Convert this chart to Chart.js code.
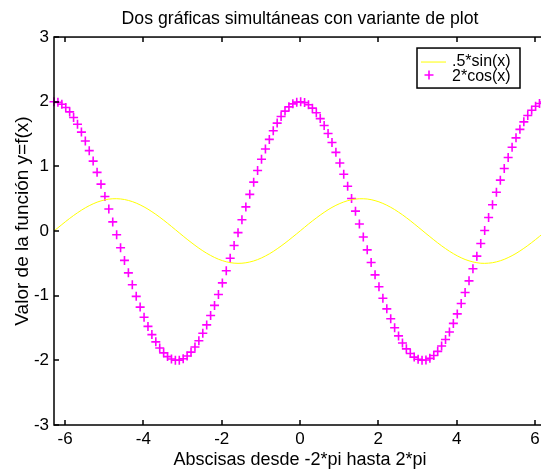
<!DOCTYPE html>
<html>
<head>
<meta charset="utf-8">
<script src="https://cdn.jsdelivr.net/npm/chart.js@4.4.1/dist/chart.umd.min.js"></script>
<style>
  html, body { margin: 0; padding: 0; background: #fff; overflow: hidden; }
  #wrap { width: 560px; height: 469px; }
</style>
</head>
<body>
<div id="wrap"><canvas id="myChart" width="560" height="469"></canvas></div>
<script>
// x = -2*pi:0.1:2*pi
const xValues = [
  -6.283, -6.183, -6.083, -5.983, -5.883, -5.783, -5.683, -5.583, -5.483, -5.383,
  -5.283, -5.183, -5.083, -4.983, -4.883, -4.783, -4.683, -4.583, -4.483, -4.383,
  -4.283, -4.183, -4.083, -3.983, -3.883, -3.783, -3.683, -3.583, -3.483, -3.383,
  -3.283, -3.183, -3.083, -2.983, -2.883, -2.783, -2.683, -2.583, -2.483, -2.383,
  -2.283, -2.183, -2.083, -1.983, -1.883, -1.783, -1.683, -1.583, -1.483, -1.383,
  -1.283, -1.183, -1.083, -0.983, -0.883, -0.783, -0.683, -0.583, -0.483, -0.383,
  -0.283, -0.183, -0.083, 0.017, 0.117, 0.217, 0.317, 0.417, 0.517, 0.617,
  0.717, 0.817, 0.917, 1.017, 1.117, 1.217, 1.317, 1.417, 1.517, 1.617,
  1.717, 1.817, 1.917, 2.017, 2.117, 2.217, 2.317, 2.417, 2.517, 2.617,
  2.717, 2.817, 2.917, 3.017, 3.117, 3.217, 3.317, 3.417, 3.517, 3.617,
  3.717, 3.817, 3.917, 4.017, 4.117, 4.217, 4.317, 4.417, 4.517, 4.617,
  4.717, 4.817, 4.917, 5.017, 5.117, 5.217, 5.317, 5.417, 5.517, 5.617,
  5.717, 5.817, 5.917, 6.017, 6.117, 6.217
];

// .5*sin(x)
const sinValues = [
  0.000, 0.050, 0.099, 0.148, 0.195, 0.240, 0.282, 0.322, 0.359, 0.392,
  0.421, 0.446, 0.466, 0.482, 0.493, 0.499, 0.500, 0.496, 0.487, 0.473,
  0.455, 0.432, 0.404, 0.373, 0.338, 0.299, 0.258, 0.214, 0.168, 0.120,
  0.071, 0.021, -0.029, -0.079, -0.128, -0.175, -0.221, -0.265, -0.306, -0.344,
  -0.378, -0.409, -0.436, -0.458, -0.476, -0.489, -0.497, -0.500, -0.498, -0.491,
  -0.479, -0.463, -0.442, -0.416, -0.386, -0.353, -0.316, -0.275, -0.232, -0.187,
  -0.140, -0.091, -0.042, 0.008, 0.058, 0.108, 0.156, 0.202, 0.247, 0.289,
  0.329, 0.365, 0.397, 0.425, 0.449, 0.469, 0.484, 0.494, 0.499, 0.499,
  0.495, 0.485, 0.470, 0.451, 0.427, 0.399, 0.367, 0.332, 0.292, 0.251,
  0.206, 0.160, 0.111, 0.062, 0.012, -0.038, -0.087, -0.136, -0.183, -0.229,
  -0.272, -0.313, -0.350, -0.384, -0.414, -0.440, -0.461, -0.478, -0.490, -0.498,
  -0.500, -0.497, -0.490, -0.477, -0.460, -0.438, -0.411, -0.381, -0.347, -0.309,
  -0.268, -0.225, -0.179, -0.132, -0.083, -0.033
];

// 2*cos(x)
const cosValues = [
  2.000, 1.990, 1.960, 1.911, 1.842, 1.755, 1.651, 1.530, 1.393, 1.243,
  1.081, 0.907, 0.725, 0.535, 0.340, 0.141, -0.058, -0.258, -0.454, -0.647,
  -0.832, -1.010, -1.177, -1.333, -1.475, -1.602, -1.714, -1.808, -1.884, -1.942,
  -1.980, -1.998, -1.997, -1.975, -1.934, -1.873, -1.794, -1.696, -1.582, -1.452,
  -1.307, -1.150, -0.981, -0.802, -0.615, -0.422, -0.224, -0.025, 0.175, 0.373,
  0.567, 0.756, 0.937, 1.109, 1.269, 1.417, 1.551, 1.669, 1.771, 1.855,
  1.920, 1.967, 1.993, 2.000, 1.986, 1.953, 1.900, 1.829, 1.739, 1.631,
  1.508, 1.369, 1.217, 1.052, 0.877, 0.693, 0.503, 0.307, 0.108, -0.092,
  -0.291, -0.487, -0.678, -0.863, -1.039, -1.204, -1.357, -1.497, -1.622, -1.731,
  -1.822, -1.895, -1.950, -1.984, -1.999, -1.994, -1.969, -1.925, -1.861, -1.778,
  -1.678, -1.561, -1.429, -1.282, -1.122, -0.951, -0.771, -0.583, -0.389, -0.192,
  0.009, 0.209, 0.406, 0.599, 0.787, 0.967, 1.137, 1.295, 1.441, 1.572,
  1.688, 1.786, 1.867, 1.929, 1.972, 1.996
];

const xTicks = [-6, -4, -2, 0, 2, 4, 6];
const yTicks = [-3, -2, -1, 0, 1, 2, 3];
const seriesNames = ['.5*sin(x)', '2*cos(x)'];
const yTitle = 'Valor de la función y=f(x)';
const xRange = [-6.2832, 6.2832];
const yRange = [-3, 3];

Chart.defaults.font.family = '"Liberation Sans", Arial, sans-serif';
Chart.defaults.color = '#000';

// marco estilo matlab: caja, ticks hacia dentro, titulo Y y leyenda
const matlabFrame = {
  id: 'matlabFrame',
  afterDraw(chart) {
    const ctx = chart.ctx;
    const a = chart.chartArea;
    const sx = chart.scales.x, sy = chart.scales.y;
    ctx.save();
    ctx.strokeStyle = '#000';
    ctx.lineWidth = 1.5;
    ctx.beginPath();
    xTicks.forEach(v => {
      const px = Math.round(sx.getPixelForValue(v));
      ctx.moveTo(px, a.bottom); ctx.lineTo(px, a.bottom - 5);
      ctx.moveTo(px, a.top); ctx.lineTo(px, a.top + 5);
    });
    yTicks.forEach(v => {
      const py = Math.round(sy.getPixelForValue(v));
      ctx.moveTo(a.left, py); ctx.lineTo(a.left + 5, py);
      ctx.moveTo(a.right, py); ctx.lineTo(a.right - 5, py);
    });
    ctx.stroke();
    ctx.strokeRect(a.left, a.top, a.right - a.left, a.bottom - a.top);

    // titulo del eje y
    ctx.save();
    ctx.translate(23, (a.top + a.bottom) / 2 - 10);
    ctx.rotate(-Math.PI / 2);
    ctx.fillStyle = '#000';
    ctx.font = '19px "Liberation Sans", Arial, sans-serif';
    ctx.textAlign = 'center';
    ctx.textBaseline = 'middle';
    ctx.fillText(yTitle, 0, 0);
    ctx.restore();

    // leyenda
    const lx = a.right - 129, ly = a.top + 11, lw = 103, lh = 40;
    ctx.fillStyle = '#fff';
    ctx.fillRect(lx, ly, lw, lh);
    ctx.strokeRect(lx, ly, lw, lh);
    ctx.strokeStyle = '#ffff00';
    ctx.lineWidth = 1;
    ctx.beginPath();
    ctx.moveTo(lx + 4, ly + 14); ctx.lineTo(lx + 29, ly + 14);
    ctx.stroke();
    ctx.strokeStyle = '#ff00ff';
    ctx.lineWidth = 1.6;
    ctx.beginPath();
    ctx.moveTo(lx + 7.5, ly + 27); ctx.lineTo(lx + 16.5, ly + 27);
    ctx.moveTo(lx + 12, ly + 22.5); ctx.lineTo(lx + 12, ly + 31.5);
    ctx.stroke();
    ctx.fillStyle = '#000';
    ctx.font = '16px "Liberation Sans", Arial, sans-serif';
    ctx.textBaseline = 'middle';
    ctx.textAlign = 'left';
    ctx.fillText(seriesNames[0], lx + 35, ly + 14);
    ctx.fillText(seriesNames[1], lx + 35, ly + 29);
    ctx.restore();
  }
};

const ctx = document.getElementById('myChart').getContext('2d');
const myChart = new Chart(ctx, {
  type: 'line',
  data: {
    datasets: [
      {
        label: seriesNames[0],
        data: xValues.map((x, i) => ({ x: x, y: sinValues[i] })),
        borderColor: '#ffff00',
        borderWidth: 1,
        pointRadius: 0,
        tension: 0,
        fill: false
      },
      {
        label: seriesNames[1],
        data: xValues.map((x, i) => ({ x: x, y: cosValues[i] })),
        showLine: false,
        pointStyle: 'cross',
        pointRadius: 4.5,
        pointBorderWidth: 1.6,
        pointBorderColor: '#ff00ff',
        pointBackgroundColor: '#ff00ff',
        clip: false
      }
    ]
  },
  options: {
    responsive: false,
    animation: false,
    devicePixelRatio: 1,
    layout: { padding: { left: 0, right: 14, top: 0, bottom: 0 } },
    plugins: {
      legend: { display: false },
      tooltip: { enabled: false },
      title: {
        display: true,
        text: 'Dos gráficas simultáneas con variante de plot',
        fullSize: false,
        font: { size: 17.7, weight: 'normal' },
        color: '#000',
        padding: { top: 8, bottom: 7.8 }
      }
    },
    scales: {
      x: {
        type: 'linear',
        min: xRange[0],
        max: xRange[1],
        grid: { display: false, drawTicks: false },
        border: { display: false },
        afterBuildTicks: s => { s.ticks = xTicks.map(v => ({ value: v })); },
        afterFit: s => { s.height = 44; },
        ticks: { font: { size: 17 }, color: '#000', padding: 4, maxRotation: 0, autoSkip: false },
        title: {
          display: true,
          text: 'Abscisas desde -2*pi hasta 2*pi',
          font: { size: 18, lineHeight: 1 },
          color: '#000',
          padding: { top: 0, bottom: 0 }
        }
      },
      y: {
        type: 'linear',
        min: yRange[0],
        max: yRange[1],
        grid: { display: false, drawTicks: false },
        border: { display: false },
        afterBuildTicks: s => { s.ticks = yTicks.map(v => ({ value: v })); },
        afterFit: s => { s.width = 54; },
        ticks: { font: { size: 17 }, color: '#000', padding: 5 },
        title: { display: false }
      }
    }
  },
  plugins: [matlabFrame]
});
</script>
</body>
</html>
